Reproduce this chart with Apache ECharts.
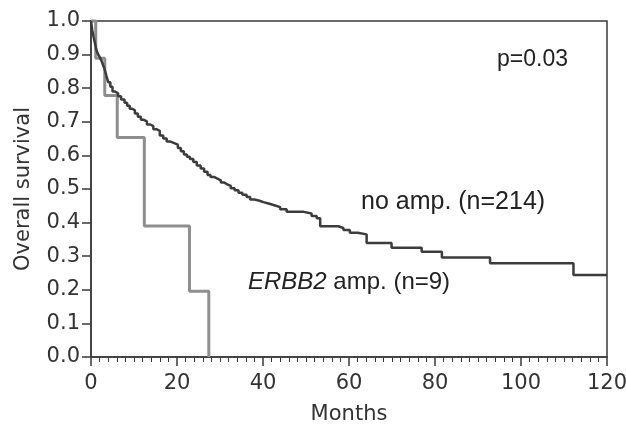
<!DOCTYPE html>
<html>
<head>
<meta charset="utf-8">
<script src="https://cdn.jsdelivr.net/npm/echarts@6/dist/echarts.min.js"></script>
<style>html,body{margin:0;padding:0;background:#fff}#c{width:626px;height:425px}</style>
</head>
<body>
<div id="c"></div>
<script>
// Kaplan-Meier data (months, survival)
const noAmpMonths = [0,0.3,0.6,0.9,1.2,1.6,2.0,2.4,2.8,3.2,3.6,4.0,4.5,5.0,5.6,6.3,7.0,7.8,8.4,9.0,9.6,10.2,10.9,11.6,12.3,13.0,13.8,14.5,15.2,16.0,16.8,17.6,18.5,19.5,20.2,20.9,21.6,22.3,23.0,23.8,24.6,25.5,26.3,27.1,27.8,28.6,29.4,30.2,31.0,31.7,32.5,33.4,34.3,35.2,36.2,37.0,38.0,39.2,40.1,41.5,42.8,44.0,45.5,49.5,51.3,52.5,53.3,57.5,58.7,60.2,62.0,64.1,69.9,76.9,81.6,92.8,112.2,120];
const noAmpSurv = [1.0,0.972,0.953,0.935,0.916,0.902,0.893,0.883,0.869,0.855,0.836,0.818,0.804,0.790,0.785,0.776,0.766,0.757,0.748,0.739,0.734,0.725,0.715,0.706,0.701,0.692,0.687,0.678,0.673,0.659,0.650,0.641,0.636,0.632,0.622,0.612,0.603,0.596,0.589,0.580,0.570,0.561,0.551,0.542,0.536,0.531,0.526,0.519,0.514,0.509,0.502,0.496,0.489,0.483,0.476,0.469,0.465,0.461,0.456,0.451,0.446,0.440,0.432,0.427,0.420,0.413,0.389,0.384,0.378,0.370,0.365,0.339,0.325,0.313,0.296,0.279,0.244,0.244];
const ampMonths = [0,1.1,3.2,6.1,12.4,22.9,27.4];
const ampSurv = [1.0,0.889,0.778,0.653,0.390,0.196,0.0];
const noAmpLabel = 'no amp. (n=214)';
const ampGene = 'ERBB2';
const ampLabel = ' amp. (n=9)';
const pLabel = 'p=0.03';
const xTitle = 'Months';
const yTitle = 'Overall survival';

const zip = (a, b) => a.map((v, i) => [v, b[i]]);
const chart = echarts.init(document.getElementById('c'), null, {renderer: 'canvas'});
const axisColor = '#3a3a3a';
const font = 'DejaVu Sans';
chart.setOption({
  animation: false,
  backgroundColor: '#fff',
  grid: {left: 91, right: 19, top: 21, bottom: 68, show: true, borderColor: axisColor, borderWidth: 1.5,
         containLabel: false, outerBoundsMode: 'none'},
  xAxis: {
    type: 'value', min: 0, max: 120, interval: 20,
    name: xTitle, nameLocation: 'middle', nameGap: 47,
    nameTextStyle: {fontFamily: font, fontSize: 21, color: '#333'},
    axisLine: {show: true, lineStyle: {color: axisColor, width: 1.5}},
    axisTick: {show: true, length: 9, lineStyle: {color: axisColor, width: 1.5}},
    minorTick: {show: true, splitNumber: 10, length: 5, lineStyle: {color: axisColor, width: 1}},
    axisLabel: {fontFamily: font, fontSize: 21, color: '#333', margin: 16},
    splitLine: {show: false}
  },
  yAxis: {
    type: 'value', min: 0, max: 1, interval: 0.1,
    name: yTitle, nameLocation: 'middle', nameGap: 57, nameRotate: 90,
    nameTextStyle: {fontFamily: font, fontSize: 21, color: '#333'},
    axisLine: {show: true, lineStyle: {color: axisColor, width: 1.5}},
    axisTick: {show: true, length: 9, lineStyle: {color: axisColor, width: 1.5}},
    axisLabel: {fontFamily: font, fontSize: 21, color: '#333', margin: 11, formatter: v => v.toFixed(1)},
    splitLine: {show: false}
  },
  series: [
    {type: 'line', step: 'end', data: zip(ampMonths, ampSurv), showSymbol: false, clip: false,
     lineStyle: {color: '#8e8e8e', width: 3}},
    {type: 'line', step: 'end', data: zip(noAmpMonths, noAmpSurv), showSymbol: false, clip: false,
     lineStyle: {color: '#3c3c3c', width: 2.5}}
  ],
  graphic: [
    {type: 'text', left: 497, top: 48, style: {text: pLabel, font: '23px "Liberation Sans"', fill: '#222'}},
    {type: 'text', left: 361, top: 190, style: {text: noAmpLabel, font: '25px "Liberation Sans"', fill: '#222'}},
    {type: 'text', left: 248, top: 270, style: {
      text: '{i|' + ampGene + '}{n|' + ampLabel + '}',
      rich: {
        i: {fontFamily: 'Liberation Sans', fontSize: 24, fontStyle: 'italic', fill: '#222', color: '#222'},
        n: {fontFamily: 'Liberation Sans', fontSize: 24, fill: '#222', color: '#222'}
      }
    }}
  ]
});
</script>
</body>
</html>
